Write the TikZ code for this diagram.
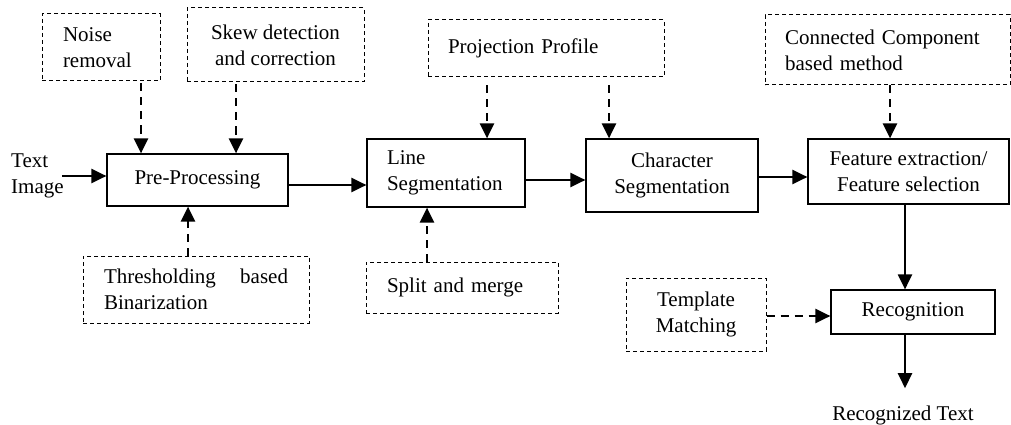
\documentclass[tikz,border=0pt]{standalone}
\usepackage{fontspec}
\setmainfont{Liberation Serif}
\usetikzlibrary{arrows.meta}
\begin{document}
\begin{tikzpicture}[x=1pt,y=-1pt,
  font=\fontsize{21}{26}\selectfont,
  stage/.style={draw,line width=1.2pt,inner sep=0pt,align=center},
  aux/.style={draw,line width=1pt,dash pattern=on 4pt off 3pt,inner sep=0pt},
  flow/.style={line width=2.2pt,-{Triangle[length=15pt,width=14pt]}},
  hint/.style={line width=2.5pt,dash pattern=on 8pt off 6pt,-{Triangle[length=15pt,width=14pt]}}]
\useasboundingbox (0,0) rectangle (1011,425);

% main processing chain
\node[anchor=west,inner sep=0pt,align=left] (textimg) at (11,176) {Text\\Image};
\node[stage,minimum width=181pt,minimum height=52pt] (pre) at (197.5,180) {Pre-Processing};
\node[stage,minimum width=158pt,minimum height=68pt,text width=118pt,align=left] (line) at (446,173) {Line\\Segmentation};
\node[stage,minimum width=172pt,minimum height=73pt] (char) at (672,175.5) {Character\\Segmentation};
\node[stage,minimum width=201pt,minimum height=65pt] (feat) at (908.5,171.5) {Feature extraction/\\Feature selection};
\node[stage,minimum width=164pt,minimum height=44pt] (recog) at (913,312) {Recognition};
\node[inner sep=0pt,inner ysep=17pt,anchor=base] (recogtext) at (903,420) {Recognized Text};

% supporting techniques
\node[aux,minimum width=118pt,minimum height=67pt,text width=76pt,align=left] (noise) at (101,47.5) {Noise\\removal};
\node[aux,minimum width=177pt,minimum height=74pt,align=center] (skew) at (275.5,45) {Skew detection\\and correction};
\node[aux,minimum width=226pt,minimum height=67pt,text width=184pt,align=left] (thresh) at (196,289.5) {\makebox[184pt][l]{Thresholding\hfill based}\\Binarization};
\node[aux,minimum width=236pt,minimum height=57pt,text width=196pt,align=left] (proj) at (546,48.5) {Projection Profile};
\node[aux,minimum width=192pt,minimum height=51pt,text width=150pt,align=left] (split) at (462,287.5) {Split and merge};
\node[aux,minimum width=245pt,minimum height=70pt,text width=205pt,align=left] (conn) at (887.5,50) {Connected Component\\based method};
\node[aux,minimum width=140pt,minimum height=73pt,align=center] (templ) at (696,314.5) {Template\\Matching};

% solid flow arrows
\draw[flow] ([xshift=-2pt]textimg.east) -- (textimg.east -| pre.west);
\draw[flow] ([yshift=-5pt]pre.east) -- ([yshift=-5pt]pre.east -| line.west);
\draw[flow] ([yshift=-7pt]line.east) -- ([yshift=-7pt]line.east -| char.west);
\draw[flow] ([yshift=-1.5pt]char.east) -- ([yshift=-1.5pt]char.east -| feat.west);
\draw[flow] ([xshift=-3.5pt]feat.south) -- ([xshift=-3.5pt]feat.south |- recog.north);
\draw[flow] ([xshift=-8pt]recog.south) -- ([xshift=-8pt]recog.south |- recogtext.north);

% dashed arrows from supporting techniques
\draw[hint] ([xshift=40pt,yshift=-2pt]noise.south) -- ([xshift=40pt]noise.south |- pre.north);
\draw[hint] ([xshift=-39.5pt,yshift=-2pt]skew.south) -- ([xshift=-39.5pt]skew.south |- pre.north);
\draw[hint] ([xshift=-8pt]thresh.north) -- ([xshift=-8pt]thresh.north |- pre.south);
\draw[hint] ([xshift=-59pt,yshift=-8pt]proj.south) -- ([xshift=-59pt]proj.south |- line.north);
\draw[hint] ([xshift=63pt,yshift=-8pt]proj.south) -- ([xshift=63pt]proj.south |- char.north);
\draw[hint] ([xshift=-35pt]split.north) -- ([xshift=-35pt]split.north |- line.south);
\draw[hint] ([xshift=2.5pt]conn.south) -- ([xshift=2.5pt]conn.south |- feat.north);
\draw[hint] ([yshift=-1.5pt]templ.east) -- ([yshift=-1.5pt]templ.east -| recog.west);
\end{tikzpicture}
\end{document}
